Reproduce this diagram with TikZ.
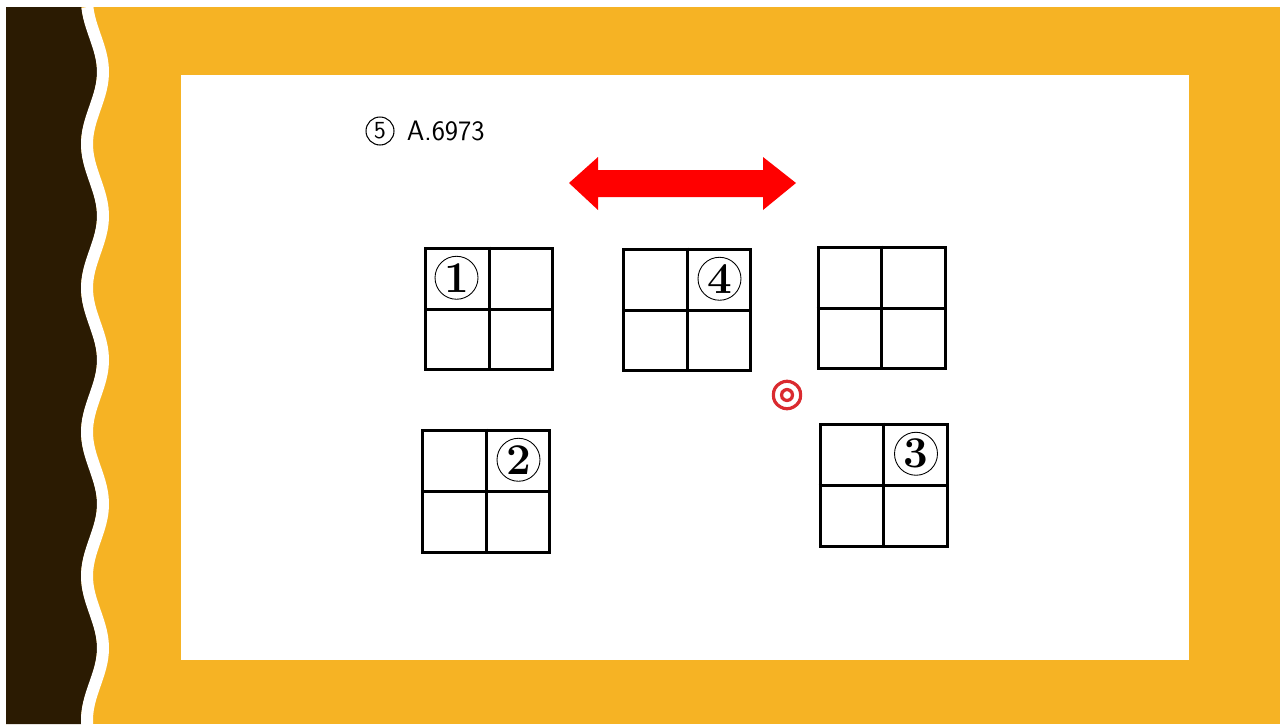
\documentclass[tikz,border=0pt]{standalone}
\usepackage{fontspec}
\usepackage{tikz}
\usetikzlibrary{positioning,calc}
\newfontfamily\symfont[FakeBold=2.5]{DejaVu Sans}
\definecolor{slideorange}{HTML}{F6B324}
\definecolor{slidedark}{HTML}{2B1B02}
\definecolor{markred}{HTML}{DA2A2F}
\definecolor{arrowred}{HTML}{FF0000}

\begin{document}
\begin{tikzpicture}[x=0.02cm,y=-0.02cm,
    squarebox/.style={rectangle,draw=black,line width=0.06cm,
      minimum width=2.54cm, minimum height=2.44cm, inner sep=0pt},
    divider/.style={line width=0.06cm},
    numcirc/.style={circle,draw=black,line width=0.5pt,inner sep=0pt,
      minimum size=0.86cm, font=\fontsize{25}{25}\selectfont\bfseries},
    hdcirc/.style={circle,draw=black,line width=0.6pt,inner sep=0pt,
      minimum size=0.56cm, font=\sffamily\fontsize{14}{14}\selectfont},
    every node/.style={align=center}]

  \useasboundingbox (0,0) rectangle (1280,724);

  % slide background
  \fill[slideorange] (6,7) rectangle (1280,724);
  \fill[slidedark] (6,7) -- plot[domain=7:724,samples=140] ({89-8*cos(2.5*\x)},\x)
    -- (6,724) -- cycle;
  \draw[white,line width=0.24cm] plot[domain=7:724,samples=140] ({95-8*cos(2.5*\x)},\x);
  \fill[white] (181,75) rectangle (1189,660);

  % header
  \node[hdcirc] (h5) at (380,131) {5};
  \node[right=0.24cm of h5, inner sep=0pt, font=\sffamily\fontsize{16}{16}\selectfont] (hd) {A.6973};

  % red arrow
  \fill[arrowred] (569,183) -- (598,157) -- (598,170) -- (763,170) -- (763,157) -- (796,183)
    -- (763,210) -- (763,197) -- (598,197) -- (598,210) -- cycle;

  % squares
  \foreach \n/\px/\py in {1/489/309, 4/687/310, e/881.5/308, 2/486/491, 3/883.5/485} {
    \node[squarebox] (sq\n) at (\px,\py) {};
    \draw[divider] (sq\n.north) -- (sq\n.south);
    \draw[divider] (sq\n.west) -- (sq\n.east);
  }

  \node[numcirc] (c1) at ($(sq1.north west)!0.5!(sq1.center)$) {1};
  \node[numcirc] (c4) at ($(sq4.north east)!0.5!(sq4.center)$) {4};
  \node[numcirc] (c2) at ($(sq2.north east)!0.5!(sq2.center)$) {2};
  \node[numcirc] (c3) at ($(sq3.north east)!0.5!(sq3.center)$) {3};

  \node[text=markred, inner sep=0pt,
    font=\symfont\fontsize{22}{22}\selectfont] (mk) at (787,395) {◎};

\end{tikzpicture}
\end{document}
